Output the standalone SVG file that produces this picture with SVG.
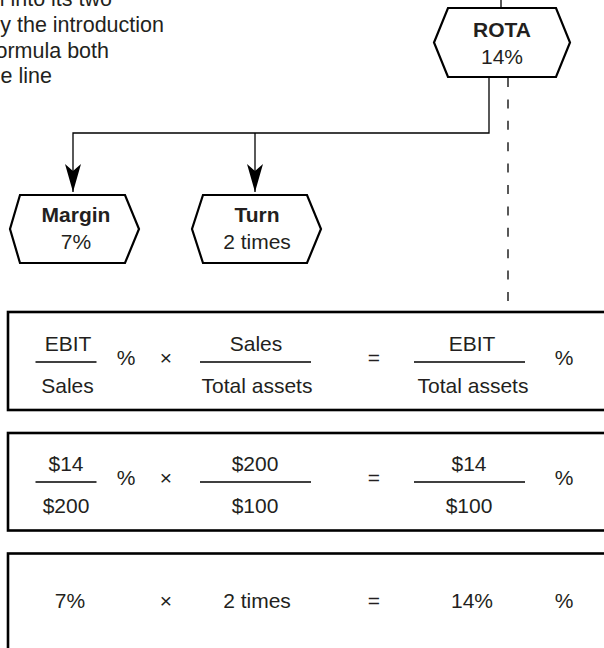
<svg xmlns="http://www.w3.org/2000/svg" width="604" height="648" viewBox="0 0 604 648">
<defs>
<style>
text{font-family:"Liberation Sans",Arial,Helvetica,sans-serif;font-size:21px;fill:#231f20}
.b{font-weight:bold}
.m{text-anchor:middle}
.e{text-anchor:end}
.intro{font-size:21.5px}
.hex{fill:#fff;stroke:#000;stroke-width:2.2;stroke-linejoin:miter}
.box{fill:#fff;stroke:#000;stroke-width:2.6}
.con{fill:none;stroke:#000;stroke-width:1.3}
.dash{fill:none;stroke:#000;stroke-width:1.3;stroke-dasharray:9 12.4}
.frac{stroke:#000;stroke-width:1.4}
</style>
<marker id="arr" viewBox="-29 -9 30 18" markerWidth="30" markerHeight="18" refX="0" refY="0" markerUnits="userSpaceOnUse" orient="auto">
<path d="M0,0 L-28,-8 L-21,0 L-28,8 Z" fill="#000"/>
</marker>
</defs>
<rect width="604" height="648" fill="#fff"/>

<g id="intro-text" class="intro">
<text class="e intro" x="112" y="6">l into its two</text>
<text class="e intro" x="164" y="32">y the introduction</text>
<text class="e intro" x="109" y="58">ormula both</text>
<text class="e intro" x="52" y="83">ne line</text>
</g>

<g id="connectors">
<line class="con" x1="501" y1="0" x2="501" y2="8"/>
<path class="con" d="M489,77 V133 H73 V192" marker-end="url(#arr)"/>
<path class="con" d="M255,133 V192" marker-end="url(#arr)"/>
<line class="dash" x1="508" y1="78" x2="508" y2="301"/>
</g>

<g id="node-rota">
<polygon class="hex" points="448,8 556,8 570,42.5 556,77 448,77 434,42.5"/>
<text class="b m" x="502" y="37">ROTA</text>
<text class="m" x="502" y="64">14%</text>
</g>

<g id="node-margin">
<polygon class="hex" points="20,195 125,195 139,229 125,263 20,263 10,229"/>
<text class="b m" x="76" y="222">Margin</text>
<text class="m" x="76" y="249">7%</text>
</g>

<g id="node-turn">
<polygon class="hex" points="203,195 307,195 321,229 307,263 203,263 192,229"/>
<text class="b m" x="257" y="222">Turn</text>
<text class="m" x="257" y="249">2 times</text>
</g>

<g id="box-formula">
<rect class="box" x="8" y="312" width="610" height="98"/>
<text class="m" x="68" y="351">EBIT</text>
<line class="frac" x1="35.5" y1="362" x2="96.5" y2="362"/>
<text class="m" x="67.5" y="393">Sales</text>
<text class="m" x="126" y="365">%</text>
<text class="m" x="166" y="365">×</text>
<text class="m" x="256" y="351">Sales</text>
<line class="frac" x1="200" y1="362" x2="311" y2="362"/>
<text class="m" x="257" y="393">Total assets</text>
<text class="m" x="374" y="365">=</text>
<text class="m" x="472" y="351">EBIT</text>
<line class="frac" x1="414" y1="362" x2="525" y2="362"/>
<text class="m" x="473" y="393">Total assets</text>
<text class="m" x="564" y="365">%</text>
</g>

<g id="box-values">
<rect class="box" x="8" y="433" width="610" height="97.5"/>
<text class="m" x="66" y="471">$14</text>
<line class="frac" x1="35.5" y1="482" x2="96.5" y2="482"/>
<text class="m" x="66" y="513">$200</text>
<text class="m" x="126" y="485">%</text>
<text class="m" x="166" y="485">×</text>
<text class="m" x="255" y="471">$200</text>
<line class="frac" x1="200" y1="482" x2="311" y2="482"/>
<text class="m" x="255" y="513">$100</text>
<text class="m" x="374" y="485">=</text>
<text class="m" x="469" y="471">$14</text>
<line class="frac" x1="414" y1="482" x2="525" y2="482"/>
<text class="m" x="469" y="513">$100</text>
<text class="m" x="564" y="485">%</text>
</g>

<g id="box-result">
<rect class="box" x="8" y="553.5" width="610" height="120"/>
<text class="m" x="70" y="608">7%</text>
<text class="m" x="166" y="608">×</text>
<text class="m" x="257" y="608">2 times</text>
<text class="m" x="374" y="608">=</text>
<text class="m" x="472" y="608">14%</text>
<text class="m" x="564" y="608">%</text>
</g>
</svg>
